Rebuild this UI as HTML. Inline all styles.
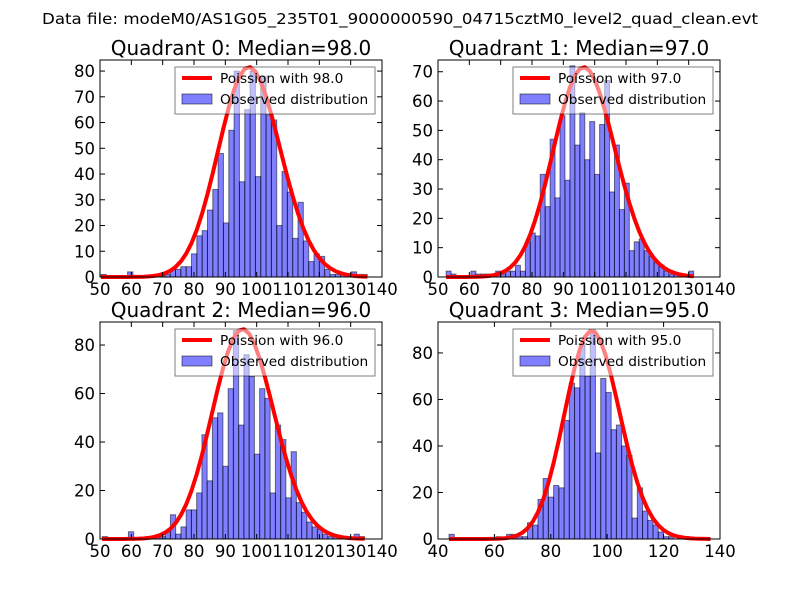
<!DOCTYPE html>
<html><head><meta charset="utf-8"><title>Quadrant histograms</title>
<style>
html,body{margin:0;padding:0;background:#fff;}
svg{display:block;font-family:"DejaVu Sans","Liberation Sans",sans-serif;}
</style></head>
<body>
<svg id="fig" width="800" height="600" viewBox="0 0 800 600">
<rect x="0" y="0" width="800" height="600" fill="#fff"/>
<text x="400" y="24" text-anchor="middle" font-size="15.5" textLength="716" lengthAdjust="spacingAndGlyphs">Data file: modeM0/AS1G05_235T01_9000000590_04715cztM0_level2_quad_clean.evt</text>
</svg>
<script>
// ---- data ----
const quadrantNames = ["Quadrant 0", "Quadrant 1", "Quadrant 2", "Quadrant 3"];
const medians = [98.0, 97.0, 96.0, 95.0];
const binStarts = [50.3, 52.6, 50.7, 43.9];
const binWidths = [1.70, 1.58, 1.675, 1.855];
const countsQ0 = [1,0,0,0,0,2,0,0,0,0, 1,1,1,3,3,4,4,9,16,18, 26,34,48,21,57,80,37,65,80,39, 78,63,61,20,41,33,15,29,14,6, 9,8,3,1,1,1,0,2,1,1];
const countsQ1 = [2,1,0,0,0,2,1,1,1,1, 2,1,2,2,4,2,12,15,14,35, 24,47,27,55,33,72,45,56,40,53, 35,52,67,29,45,23,32,9,12,13, 9,7,5,4,2,1,1,0,0,2];
const countsQ2 = [1,0,0,0,0,3,0,0,0,0, 1,1,3,10,2,5,12,12,19,43, 24,50,52,30,62,86,47,76,67,35, 62,58,19,47,41,17,36,15,11,7, 5,4,2,1,1,1,1,0,2,1];
const countsQ3 = [2,0,0,0,0,0,0,0,0,1, 0,2,2,1,1,7,6,17,26,18, 23,22,51,67,65,84,70,90,37,69, 63,47,49,40,36,9,22,12,8,6, 3,1,1,0,0,1,0,0,0,0];
const curvePeaks = [81.5, 71.5, 86.5, 89.5];
const xMins = [50, 50, 50, 40];
const xMaxs = [140, 140, 140, 140];
const yMaxs = [84.3, 74, 89.5, 93.3];
const xTicksQ0 = [50,60,70,80,90,100,110,120,130,140];
const xTicksQ1 = [50,60,70,80,90,100,110,120,130,140];
const xTicksQ2 = [50,60,70,80,90,100,110,120,130,140];
const xTicksQ3 = [40,60,80,100,120,140];
const yTicksQ0 = [0,10,20,30,40,50,60,70,80];
const yTicksQ1 = [0,10,20,30,40,50,60,70];
const yTicksQ2 = [0,20,40,60,80];
const yTicksQ3 = [0,20,40,60,80];

const allCounts = [countsQ0, countsQ1, countsQ2, countsQ3];
const allXTicks = [xTicksQ0, xTicksQ1, xTicksQ2, xTicksQ3];
const allYTicks = [yTicksQ0, yTicksQ1, yTicksQ2, yTicksQ3];

// ---- layout ----
const NS = "http://www.w3.org/2000/svg";
const svg = document.getElementById("fig");
const boxes = [
  {l:100, r:382, t:60, b:277},
  {l:438, r:720, t:60, b:277},
  {l:100, r:382, t:322, b:539},
  {l:438, r:720, t:322, b:539}
];
function mk(tag, attrs, parent){
  const e = document.createElementNS(NS, tag);
  for (const k in attrs) e.setAttribute(k, attrs[k]);
  (parent || svg).appendChild(e);
  return e;
}
function lgamma(z){
  const g = 7;
  const c = [0.99999999999980993,676.5203681218851,-1259.1392167224028,771.32342877765313,
    -176.61502916214059,12.507343278686905,-0.13857109526572012,9.9843695780195716e-6,1.5056327351493116e-7];
  z -= 1;
  let x = c[0];
  for (let i = 1; i < g + 2; i++) x += c[i] / (z + i);
  const t = z + g + 0.5;
  return 0.5*Math.log(2*Math.PI) + (z+0.5)*Math.log(t) - t + Math.log(x);
}
function lpois(k, lam){ return k*Math.log(lam) - lam - lgamma(k+1); }

for (let q = 0; q < 4; q++){
  const B = boxes[q];
  const g = mk("g", {});
  
  
  const xs = v => B.l + (v - xMins[q]) / (xMaxs[q] - xMins[q]) * (B.r - B.l);
  const ys = v => B.b - v / yMaxs[q] * (B.b - B.t);

  const bg = mk("rect", {x:B.l, y:B.t, width:B.r-B.l, height:B.b-B.t, fill:"#fff"}, g);
  
  

  const counts = allCounts[q];
  for (let i = 0; i < counts.length; i++){
    if (counts[i] <= 0) continue;
    const x0 = xs(binStarts[q] + i*binWidths[q]);
    const x1 = xs(binStarts[q] + (i+1)*binWidths[q]);
    const bar = mk("rect", {x:x0, y:ys(counts[i]), width:x1-x0, height:ys(0)-ys(counts[i]),
      fill:"rgb(0,0,255)", "fill-opacity":"0.5", stroke:"rgb(0,0,0)", "stroke-opacity":"0.5", "stroke-width":"1"}, g);
    
    
  }

  const lam = medians[q];
  const ref = lpois(lam, lam);
  const pts = [];
  for (let i = 0; i <= counts.length; i++){
    const k = binStarts[q] + i*binWidths[q];
    const v = curvePeaks[q] * Math.exp(lpois(k, lam) - ref);
    pts.push(xs(k).toFixed(2) + "," + ys(v).toFixed(2));
  }
  const curve = mk("polyline", {points:pts.join(" "), fill:"none", stroke:"#ff0000", "stroke-width":"4", "stroke-linejoin":"round"}, g);
  
  

  const frame = mk("rect", {x:B.l, y:B.t, width:B.r-B.l, height:B.b-B.t, fill:"none", stroke:"#000", "stroke-width":"1"}, g);
  
  

  const xt = allXTicks[q];
  for (const v of xt){
    const x = xs(v);
    const t1 = mk("line", {x1:x, x2:x, y1:B.b, y2:B.b-5, stroke:"#000"}, g);
    
    
    const t2 = mk("line", {x1:x, x2:x, y1:B.t, y2:B.t+5, stroke:"#000"}, g);
    
    
    const lb = mk("text", {x:x, y:B.b+18, "text-anchor":"middle", "font-size":"16.5"}, g);
    lb.textContent = String(v);
    
    
  }
  const yt = allYTicks[q];
  for (const v of yt){
    const y = ys(v);
    const t1 = mk("line", {x1:B.l, x2:B.l+5, y1:y, y2:y, stroke:"#000"}, g);
    
    
    const t2 = mk("line", {x1:B.r, x2:B.r-5, y1:y, y2:y, stroke:"#000"}, g);
    
    
    const lb = mk("text", {x:B.l-5, y:y+6, "text-anchor":"end", "font-size":"16.5"}, g);
    lb.textContent = String(v);
    
    
  }
  const tt = mk("text", {x:(B.l+B.r)/2, y:B.t-5, "text-anchor":"middle", "font-size":"20"}, g);
  tt.textContent = quadrantNames[q] + ": Median=" + medians[q].toFixed(1);
  
  

  const lg = mk("g", {}, g);
  
  
  const lx = B.r - 207, ly = B.t + 7;
  const lbox = mk("rect", {x:lx, y:ly, width:200, height:47, fill:"#fff", "fill-opacity":"0.5", stroke:"#000", "stroke-opacity":"0.5", "stroke-width":"1"}, lg);
  
  
  const ll = mk("line", {x1:lx+7, x2:lx+37, y1:ly+11, y2:ly+11, stroke:"#ff0000", "stroke-width":"4"}, lg);
  
  
  const lt1 = mk("text", {x:lx+45, y:ly+16, "font-size":"13.7"}, lg);
  lt1.textContent = "Poission with " + medians[q].toFixed(1);
  
  
  const lr = mk("rect", {x:lx+7, y:ly+27, width:30, height:10, fill:"rgb(0,0,255)", "fill-opacity":"0.5", stroke:"rgb(0,0,0)", "stroke-opacity":"0.5"}, lg);
  
  
  const lt2 = mk("text", {x:lx+45, y:ly+37, "font-size":"13.7"}, lg);
  lt2.textContent = "Observed distribution";
  
  
}
</script>
</body></html>
